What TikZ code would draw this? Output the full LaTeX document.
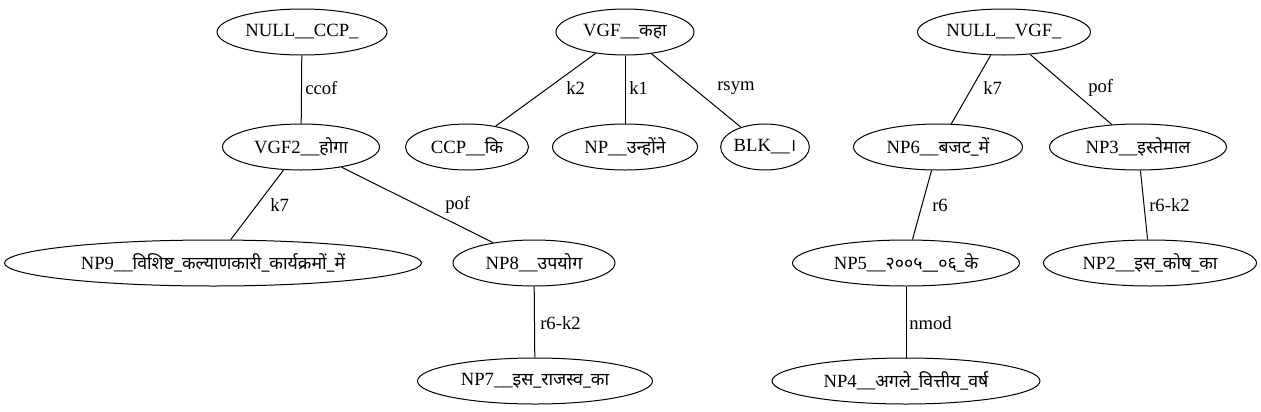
\documentclass[tikz,border=0pt]{standalone}
\usepackage{fontspec}
\setmainfont{Liberation Serif}
\newfontfamily\dev[Script=Devanagari,Scale=0.95]{Noto Sans}
\usetikzlibrary{shapes.geometric}
\tikzset{
  gnode/.style={ellipse, draw, line width=0.75pt, inner sep=0pt, minimum height=46*0.75pt, font=\fontsize{14pt}{16pt}\selectfont},
  ew/.style={minimum width=#1*0.75pt},
  elabel/.style={anchor=west, inner sep=0pt, font=\fontsize{14pt}{16pt}\selectfont},
  gedge/.style={line width=0.75pt}
}
\begin{document}
\begin{tikzpicture}[x=0.75pt,y=-0.75pt]
\useasboundingbox (0,0) rectangle (1261,411);
% tree 1
\node[gnode, ew=170] (a) at (302,32) {NULL\_\_CCP\_};
\node[gnode, ew=157] (b) at (301,147) {VGF2\_\_{\dev होगा}};
\node[gnode, ew=417] (c) at (213,263) {NP9\_\_{\dev विशिष्ट\_कल्याणकारी\_कार्यक्रमों\_में}};
\node[gnode, ew=162] (d) at (534,263) {NP8\_\_{\dev उपयोग}};
\node[gnode, ew=235] (e) at (535,381) {NP7\_\_{\dev इस\_राजस्व\_का}};
% tree 2
\node[gnode, ew=138] (f) at (625,32) {VGF\_\_{\dev कहा}};
\node[gnode, ew=123] (g) at (467,147) {CCP\_\_{\dev कि}};
\node[gnode, ew=145] (h) at (625,147) {NP\_\_{\dev उन्होंने}};
\node[gnode, ew=85] (i) at (765,147) {BLK\_\_{\dev ।}};
% tree 3
\node[gnode, ew=173] (j) at (1004,32) {NULL\_\_VGF\_};
\node[gnode, ew=169] (k) at (938,147) {NP6\_\_{\dev बजट\_में}};
\node[gnode, ew=177] (l) at (1138,147) {NP3\_\_{\dev इस्तेमाल}};
\node[gnode, ew=227] (m) at (906,263) {NP5\_\_{\dev २००५\_\_०६\_के}};
\node[gnode, ew=213] (n) at (1150,263) {NP2\_\_{\dev इस\_कोष\_का}};
\node[gnode, ew=268] (o) at (906,381) {NP4\_\_{\dev अगले\_वित्तीय\_वर्ष}};
% edges
\draw[gedge] (a) -- (b);
\draw[gedge] (b) -- (c);
\draw[gedge] (b) -- (d);
\draw[gedge] (d) -- (e);
\draw[gedge] (f) -- (g);
\draw[gedge] (f) -- (h);
\draw[gedge] (f) -- (i);
\draw[gedge] (j) -- (k);
\draw[gedge] (j) -- (l);
\draw[gedge] (k) -- (m);
\draw[gedge] (l) -- (n);
\draw[gedge] (m) -- (o);
% labels
\node[elabel] (la) at (305,88) {ccof};
\node[elabel] (lb) at (270,205) {k7};
\node[elabel] (lc) at (445,205) {pof};
\node[elabel] (ld) at (540,323) {r6-k2};
\node[elabel] (le) at (566,88) {k2};
\node[elabel] (lf) at (629,88) {k1};
\node[elabel] (lg) at (717,88) {rsym};
\node[elabel] (lh) at (983,88) {k7};
\node[elabel] (li) at (1088,88) {pof};
\node[elabel] (lj) at (932,205) {r6};
\node[elabel] (lk) at (1149,205) {r6-k2};
\node[elabel] (ll) at (909,323) {nmod};
\end{tikzpicture}
\end{document}
